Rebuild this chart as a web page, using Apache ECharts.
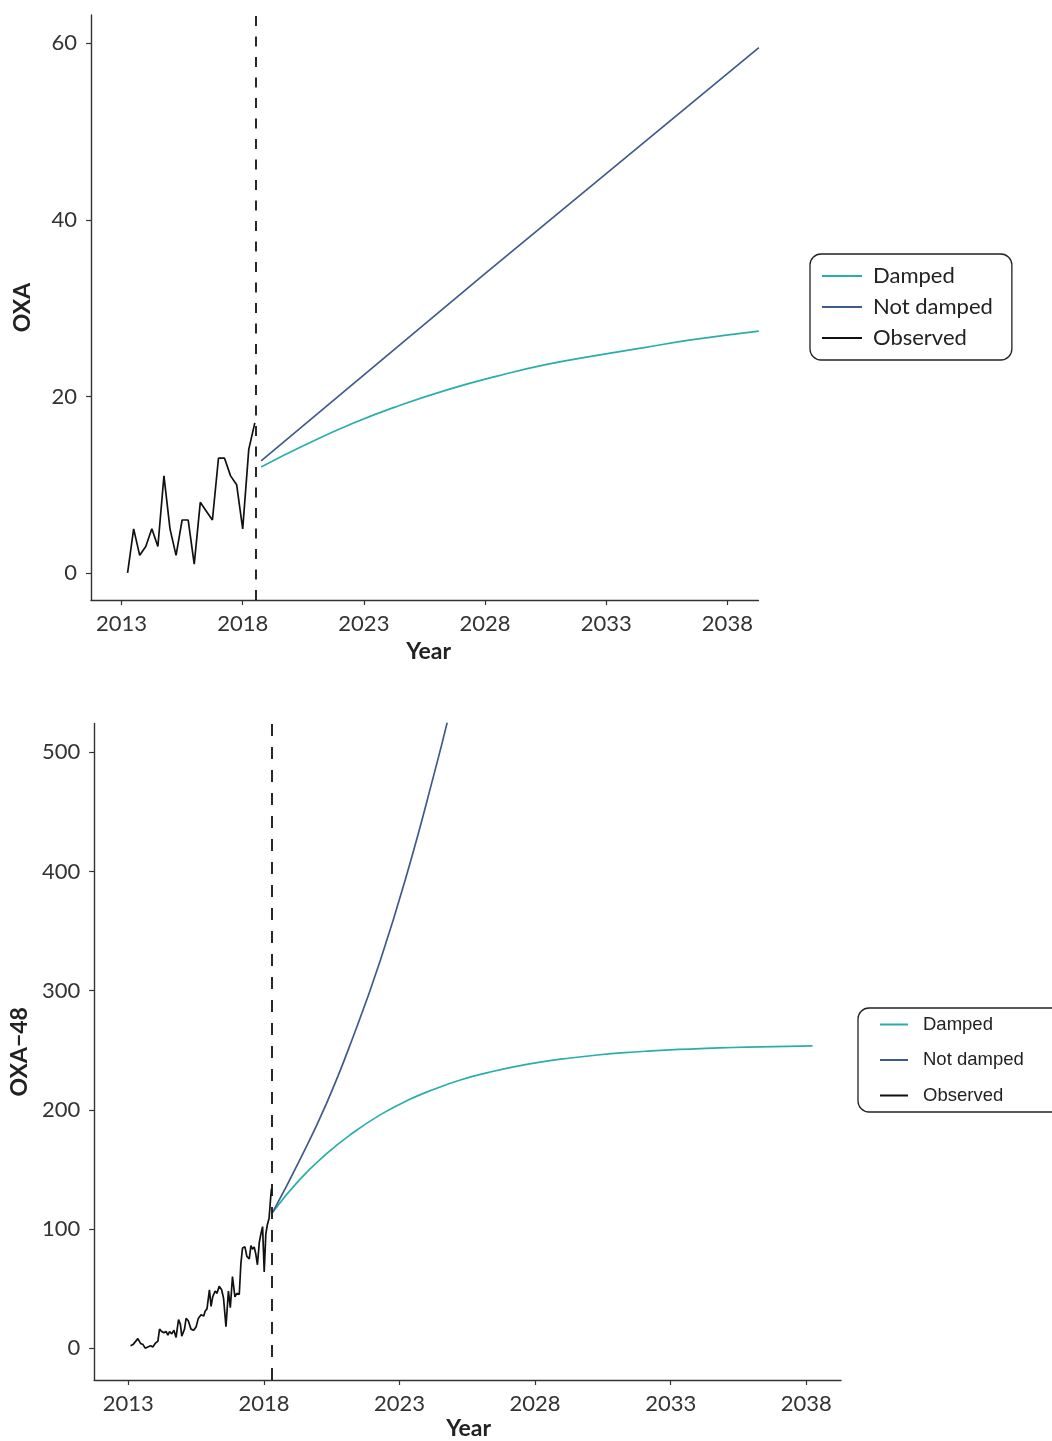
<!DOCTYPE html>
<html>
<head>
<meta charset="utf-8">
<script src="https://cdn.jsdelivr.net/npm/echarts@6/dist/echarts.min.js"></script>
<style>
  html, body { margin: 0; padding: 0; background: #ffffff; }
  #chart { width: 1052px; height: 1441px; }
</style>
</head>
<body>
<div id="chart"></div>
<script>
// ---- Shared axis ticks ----
const yearTicks = [2013, 2018, 2023, 2028, 2033, 2038];
const oxaTicks = [0, 20, 40, 60];
const oxa48Ticks = [0, 100, 200, 300, 400, 500];

// ---- OXA: quarterly observed counts ----
const oxaObsFirstYear = 2013.25;
const oxaObsStep = 0.25;
const oxaObsValues = [0, 5, 2, 3, 5, 3, 11, 5, 2, 6, 6, 1, 8, 7, 6, 13, 13, 11, 10, 5, 14, 17];
const oxaForecastStart = 2018.55;

// OXA forecasts
const oxaDampedYears = [2018.76, 2020.5, 2022.5, 2024.5, 2026.5, 2028.5, 2030.5, 2032.5, 2034.5, 2036.5, 2039.3];
const oxaDampedValues = [12.0, 14.4, 16.9, 19.0, 20.8, 22.3, 23.6, 24.6, 25.5, 26.4, 27.4];
const oxaNotDampedYears = [2018.76, 2028.0, 2039.3];
const oxaNotDampedValues = [12.7, 33.9, 59.5];

// ---- OXA-48: monthly observed counts ----
const oxa48ObsYears = [
  2013.08, 2013.17, 2013.23, 2013.35, 2013.45, 2013.54, 2013.62, 2013.72, 2013.82, 2013.90,
  2013.99, 2014.09, 2014.15, 2014.23, 2014.31, 2014.39, 2014.46, 2014.52, 2014.60, 2014.68,
  2014.76, 2014.85, 2014.92, 2014.97, 2015.07, 2015.13, 2015.21, 2015.31, 2015.41, 2015.50,
  2015.58, 2015.68, 2015.78, 2015.83, 2015.90, 2015.99, 2016.05, 2016.11, 2016.20, 2016.27,
  2016.35, 2016.44, 2016.51, 2016.60, 2016.69, 2016.76, 2016.84, 2016.93, 2017.00, 2017.09,
  2017.15, 2017.21, 2017.30, 2017.37, 2017.46, 2017.52, 2017.58, 2017.64, 2017.70, 2017.76,
  2017.83, 2017.89, 2017.95, 2018.01, 2018.07, 2018.13, 2018.19, 2018.25, 2018.28
];
const oxa48ObsValues = [
  2, 3, 2, 8, 4, 3, 0, 1, 2, 1,
  4, 6, 16, 14, 13, 14, 11, 14, 12, 15,
  9, 24, 20, 10, 16, 25, 23, 16, 15, 18,
  25, 28, 27, 31, 33, 49, 35, 43, 48, 46,
  52, 49, 42, 18, 48, 34, 60, 43, 46, 45,
  71, 84, 85, 77, 75, 86, 83, 85, 79, 70,
  89, 96, 102, 64, 96, 104, 109, 127, 134
];
const oxa48ForecastStart = 2018.27;

// OXA-48 forecasts
const oxa48DampedYears = [2018.32, 2019.3, 2020.3, 2021.3, 2022.3, 2023.3, 2024.3, 2025.3, 2026.3, 2027.3,
                          2028.3, 2029.3, 2030.3, 2031.3, 2032.3, 2033.3, 2034.3, 2035.3, 2036.3, 2037.3, 2038.23];
const oxa48DampedValues = [114, 141, 163, 181, 196, 208, 217.5, 225.5, 231.5, 236.5,
                           240.5, 243.5, 246, 248, 249.5, 250.7, 251.6, 252.3, 252.8, 253.2, 253.6];
const oxa48NotDampedYears = [2018.32, 2019.3, 2020.3, 2021.3, 2022.3, 2023.3, 2024.3, 2024.79];
const oxa48NotDampedValues = [114, 157, 205, 262, 326, 400, 484, 528];

// ---- Styling ----
const COL_DAMPED = '#2aaeaa';
const COL_NOT_DAMPED = '#3f5b8c';
const COL_OBS = '#111111';
const AXIS_COL = '#333333';
const TEXT_COL = '#333333';
const FONT = 'Lato';

const pairs = (xs, ys) => xs.map((x, i) => [x, ys[i]]);
const oxaObsData = oxaObsValues.map((v, i) => [oxaObsFirstYear + i * oxaObsStep, v]);

function xAxisFor(gridIndex, nameGap, namePadLeft) {
  return {
    type: 'value', gridIndex,
    min: 2011.74, max: 2039.28,
    name: 'Year', nameLocation: 'middle', nameGap,
    nameTextStyle: { fontFamily: FONT, fontWeight: 'bold', fontSize: 23, color: '#222',
                     padding: [0, 0, 0, namePadLeft] },
    axisLine: { show: true, onZero: false, lineStyle: { color: AXIS_COL, width: 1.4 } },
    axisTick: { show: true, length: 5, customValues: yearTicks, lineStyle: { color: AXIS_COL, width: 1.2 } },
    axisLabel: { customValues: yearTicks, margin: 13, fontFamily: FONT, fontSize: 22, color: TEXT_COL,
                 formatter: v => String(v) },
    splitLine: { show: false }
  };
}

function yAxisFor(gridIndex, name, min, max, ticks, nameGap) {
  return {
    type: 'value', gridIndex, min, max,
    name, nameLocation: 'middle', nameGap,
    nameTextStyle: { fontFamily: FONT, fontWeight: 'bold', fontSize: 23, color: '#222' },
    axisLine: { show: true, onZero: false, lineStyle: { color: AXIS_COL, width: 1.4 } },
    axisTick: { show: true, length: 5, customValues: ticks, lineStyle: { color: AXIS_COL, width: 1.2 } },
    axisLabel: { customValues: ticks, margin: 14, fontFamily: FONT, fontSize: 22, color: TEXT_COL },
    splitLine: { show: false }
  };
}

function lineSeries(name, color, data, axisIdx, extra) {
  return Object.assign({
    name, type: 'line', data,
    xAxisIndex: axisIdx, yAxisIndex: axisIdx,
    showSymbol: false, symbol: 'none', smooth: false,
    color, itemStyle: { color },
    lineStyle: { color, width: 1.7 },
    animation: false, z: 3
  }, extra || {});
}

function dashedMark(x, dash) {
  return {
    silent: true, symbol: ['none', 'none'], label: { show: false },
    lineStyle: { color: '#111', width: 1.8, type: dash, opacity: 1 },
    emphasis: { disabled: true },
    data: [{ xAxis: x }]
  };
}

const chart = echarts.init(document.getElementById('chart'), null, { renderer: 'canvas' });

chart.setOption({
  backgroundColor: '#ffffff',
  animation: false,
  grid: [
    { left: 91, top: 15, width: 667.4, height: 585 },
    { left: 93.6, top: 723.5, width: 747.4, height: 660.5 }
  ],
  xAxis: [xAxisFor(0, 40.5, 8), xAxisFor(1, 37, 2)],
  yAxis: [
    yAxisFor(0, 'OXA', -3.06, 63.2, oxaTicks, 57),
    yAxisFor(1, 'OXA\u221248', -26.7, 524.2, oxa48Ticks, 63)
  ],
  legend: [
    {
      data: ['Damped', 'Not damped', 'Observed'],
      orient: 'vertical', left: 810, top: 254,
      padding: [11, 19, 11, 12],
      icon: 'rect', itemWidth: 40, itemHeight: 2, itemGap: 9,
      borderColor: '#222', borderWidth: 1.3, borderRadius: 11,
      selectedMode: false,
      textStyle: { fontFamily: FONT, fontSize: 22, lineHeight: 22, color: '#222', padding: [0, 0, 0, 6] }
    },
    {
      data: ['Damped', 'Not damped', 'Observed'],
      orient: 'vertical', left: 858, top: 1008,
      padding: [7, 60, 7, 22],
      icon: 'rect', itemWidth: 28, itemHeight: 2, itemGap: 16.5,
      borderColor: '#222', borderWidth: 1.3, borderRadius: 11,
      selectedMode: false,
      textStyle: { fontFamily: 'Liberation Sans', fontSize: 18.5, lineHeight: 18.5, color: '#222', padding: [0, 0, 0, 10] }
    }
  ],
  series: [
    // OXA
    lineSeries('Damped', COL_DAMPED, pairs(oxaDampedYears, oxaDampedValues), 0, { smooth: 0.5 }),
    lineSeries('Not damped', COL_NOT_DAMPED, pairs(oxaNotDampedYears, oxaNotDampedValues), 0),
    lineSeries('Observed', COL_OBS, oxaObsData, 0, { markLine: dashedMark(oxaForecastStart, [10, 10.5]) }),
    // OXA-48
    lineSeries('Damped', COL_DAMPED, pairs(oxa48DampedYears, oxa48DampedValues), 1, { smooth: 0.5 }),
    lineSeries('Not damped', COL_NOT_DAMPED, pairs(oxa48NotDampedYears, oxa48NotDampedValues), 1, { smooth: 0.5 }),
    lineSeries('Observed', COL_OBS, pairs(oxa48ObsYears, oxa48ObsValues), 1, { markLine: dashedMark(oxa48ForecastStart, [12, 11]) })
  ]
});
</script>
</body>
</html>
